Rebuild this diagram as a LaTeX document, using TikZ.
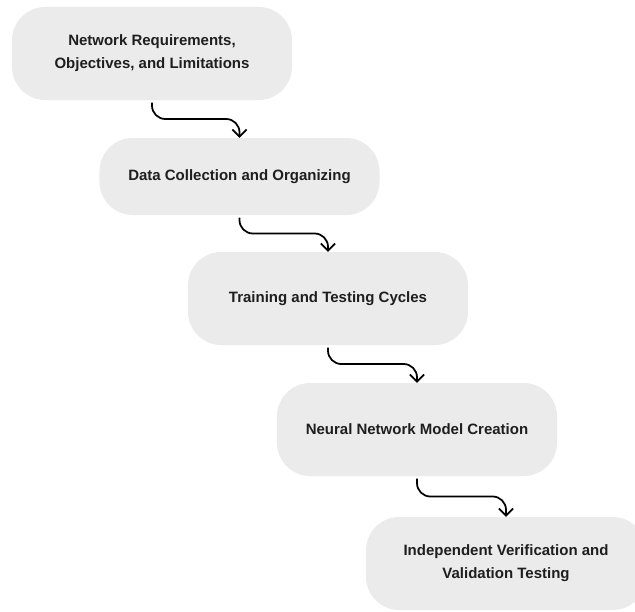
\documentclass[tikz,border=0pt]{standalone}
\usepackage{fontspec}
\setmainfont{Liberation Sans}
\usetikzlibrary{arrows.meta,calc}
\definecolor{boxgray}{HTML}{EBEBEB}
\definecolor{textgray}{HTML}{1E1E1E}

\begin{document}
\begin{tikzpicture}
  [x=0.03cm,y=-0.03cm,
   every node/.style={fill=boxgray,rounded corners=1cm,minimum width=8.4cm,minimum height=2.79cm,
     align=center,text=textgray,font=\fontsize{12.8}{19.6}\selectfont\bfseries},
   flow/.style={-{Straight Barb[length=6pt,width=12pt,line width=1.5pt]},line width=1.5pt,rounded corners=0.4cm}]
  \fill[white] (0,0) rectangle (635,612);
  \useasboundingbox (0,0) rectangle (635,612);
  \node (req)   at (152,53.5)  {Network Requirements,\\Objectives, and Limitations};
  \node[minimum height=2.31cm] (data) at (239.5,176.5) {Data Collection and Organizing};
  \node (train) at (328,298.5) {Training and Testing Cycles};
  \node (model) at (417,429.5) {Neural Network Model Creation};
  \node (test)  at (506,563.5) {Independent Verification and\\Validation Testing};
  \foreach \from/\to in {req/data,data/train,train/model,model/test}
    \draw[flow] ([yshift=-2pt]\from.south) |- ($(\from.south)!.5!(\to.north)$) -| (\to.north);
\end{tikzpicture}
\end{document}
